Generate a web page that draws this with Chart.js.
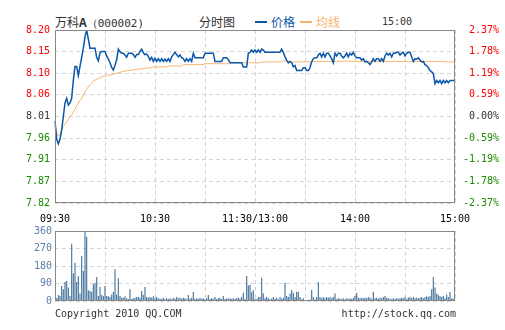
<!DOCTYPE html>
<html>
<head>
<meta charset="utf-8">
<script src="https://cdn.jsdelivr.net/npm/chart.js@4"></script>
<style>
  body { margin: 0; background: #fff; width: 505px; height: 330px; position: relative; overflow: hidden; }
  .txt { position: absolute; white-space: nowrap; color: #333; }
  .cn { font-family: "Noto Sans CJK SC", sans-serif; font-size: 12px; line-height: 16px; }
  .mono { font-family: "DejaVu Sans Mono", monospace; font-size: 10px; line-height: 12px; }
  .swatch { position: absolute; height: 2px; width: 12px; }
  canvas { position: absolute; left: 0; }
</style>
</head>
<body>
<div class="txt cn" style="left:55px; top:14px;">万科<b>A</b><span class="mono" style="font-size:11px;">（000002)</span></div>
<div class="txt cn" style="left:199px; top:14px;">分时图</div>
<div class="swatch" style="left:255px; top:21px; background:#0a56a8;"></div>
<div class="txt cn" style="left:271px; top:14px; color:#0a56a8;">价格</div>
<div class="swatch" style="left:300px; top:21px; background:#f6b26b;"></div>
<div class="txt cn" style="left:316px; top:14px; color:#f6b26b;">均线</div>
<div class="txt mono" style="left:382px; top:16px;">15:00</div>
<canvas id="priceChart" width="505" height="235" style="top:0;"></canvas>
<canvas id="volChart" width="505" height="88" style="top:222px;"></canvas>
<div class="txt mono" style="left:55px; top:308px;">Copyright 2010 QQ.COM</div>
<div class="txt mono" style="right:49px; top:308px;">http://stock.qq.com</div>
<script>
// price per minute, 09:30 .. 11:30 then 13:01 .. 15:00
const prices = [
  8.00, 7.96, 7.95, 7.96, 7.98, 8.01, 8.04, 8.05, 8.035, 8.04,
  8.05, 8.09, 8.12, 8.12, 8.10, 8.12, 8.14, 8.16, 8.185, 8.20,
  8.18, 8.16, 8.16, 8.16, 8.16, 8.14, 8.132, 8.15, 8.153, 8.153,
  8.153, 8.143, 8.136, 8.128, 8.118, 8.112, 8.122, 8.135, 8.158, 8.152,
  8.149, 8.149, 8.145, 8.140, 8.149, 8.149, 8.149, 8.146, 8.140, 8.146,
  8.146, 8.153, 8.158, 8.150, 8.146, 8.147, 8.142, 8.134, 8.140, 8.131,
  8.138, 8.131, 8.137, 8.131, 8.137, 8.131, 8.136, 8.131, 8.137, 8.131,
  8.141, 8.146, 8.151, 8.146, 8.141, 8.145, 8.139, 8.137, 8.131, 8.137,
  8.131, 8.137, 8.131, 8.149, 8.139, 8.139, 8.139, 8.139, 8.139, 8.139,
  8.149, 8.149, 8.149, 8.149, 8.149, 8.149, 8.131, 8.131, 8.131, 8.131,
  8.131, 8.139, 8.139, 8.139, 8.135, 8.128, 8.128, 8.128, 8.128, 8.128,
  8.128, 8.128, 8.128, 8.119, 8.119, 8.119, 8.149, 8.151, 8.156, 8.151,
  8.156, 8.151, 8.156, 8.151, 8.158, 8.156, 8.151, 8.151, 8.151, 8.151,
  8.151, 8.151, 8.151, 8.151, 8.151, 8.151, 8.158, 8.151, 8.141, 8.134,
  8.128, 8.131, 8.128, 8.119, 8.122, 8.111, 8.111, 8.111, 8.111, 8.117,
  8.117, 8.111, 8.111, 8.117, 8.130, 8.137, 8.139, 8.139, 8.145, 8.149,
  8.141, 8.149, 8.141, 8.149, 8.149, 8.143, 8.137, 8.128, 8.149, 8.143,
  8.149, 8.149, 8.143, 8.139, 8.143, 8.149, 8.141, 8.149, 8.145, 8.151,
  8.143, 8.139, 8.139, 8.139, 8.134, 8.137, 8.130, 8.131, 8.128, 8.124,
  8.130, 8.137, 8.131, 8.137, 8.137, 8.131, 8.137, 8.131, 8.143, 8.149,
  8.145, 8.149, 8.141, 8.149, 8.149, 8.151, 8.151, 8.145, 8.149, 8.151,
  8.143, 8.149, 8.151, 8.151, 8.141, 8.131, 8.137, 8.136, 8.139, 8.134,
  8.130, 8.131, 8.124, 8.122, 8.117, 8.111, 8.108, 8.104, 8.082, 8.089,
  8.084, 8.089, 8.082, 8.089, 8.084, 8.089, 8.084, 8.089, 8.089, 8.089,
  8.089
];

// average price line
const avgPrices = [
  7.993, 7.975, 7.967, 7.970, 7.982, 7.988, 7.993, 7.999, 8.004, 8.009,
  8.014, 8.020, 8.026, 8.033, 8.039, 8.045, 8.050, 8.057, 8.064, 8.070,
  8.075, 8.080, 8.084, 8.087, 8.090, 8.092, 8.093, 8.095, 8.097, 8.098,
  8.099, 8.100, 8.101, 8.101, 8.102, 8.103, 8.104, 8.105, 8.106, 8.107,
  8.108, 8.109, 8.110, 8.110, 8.111, 8.111, 8.112, 8.112, 8.113, 8.113,
  8.114, 8.114, 8.115, 8.115, 8.116, 8.116, 8.117, 8.117, 8.117, 8.119,
  8.119, 8.119, 8.119, 8.119, 8.119, 8.119, 8.119, 8.119, 8.121, 8.121,
  8.121, 8.121, 8.121, 8.121, 8.121, 8.121, 8.121, 8.124, 8.124, 8.124,
  8.124, 8.124, 8.124, 8.124, 8.124, 8.124, 8.124, 8.124, 8.124, 8.124,
  8.126, 8.126, 8.126, 8.126, 8.126, 8.126, 8.126, 8.126, 8.126, 8.126,
  8.126, 8.126, 8.126, 8.126, 8.126, 8.128, 8.128, 8.128, 8.128, 8.128,
  8.128, 8.128, 8.128, 8.128, 8.128, 8.128, 8.128, 8.128, 8.128, 8.128,
  8.128, 8.128, 8.128, 8.128, 8.130, 8.130, 8.130, 8.130, 8.130, 8.130,
  8.130, 8.130, 8.130, 8.130, 8.130, 8.130, 8.130, 8.132, 8.132, 8.132,
  8.130, 8.130, 8.130, 8.130, 8.130, 8.130, 8.130, 8.130, 8.130, 8.130,
  8.130, 8.130, 8.130, 8.130, 8.130, 8.131, 8.131, 8.131, 8.131, 8.131,
  8.131, 8.131, 8.131, 8.131, 8.131, 8.131, 8.131, 8.131, 8.131, 8.131,
  8.131, 8.131, 8.131, 8.132, 8.132, 8.132, 8.132, 8.131, 8.131, 8.131,
  8.131, 8.131, 8.131, 8.131, 8.131, 8.131, 8.131, 8.131, 8.131, 8.131,
  8.131, 8.131, 8.131, 8.131, 8.131, 8.131, 8.131, 8.131, 8.131, 8.131,
  8.131, 8.131, 8.131, 8.131, 8.131, 8.131, 8.131, 8.131, 8.131, 8.131,
  8.131, 8.131, 8.131, 8.131, 8.131, 8.131, 8.131, 8.131, 8.131, 8.131,
  8.131, 8.131, 8.131, 8.131, 8.131, 8.131, 8.131, 8.131, 8.131, 8.131,
  8.131, 8.131, 8.131, 8.130, 8.130, 8.130, 8.130, 8.130, 8.130, 8.130,
  8.130
];

// volume per minute
const volumes = [
  9, 14, 31, 26, 77, 60, 98, 103, 69, 26,
  295, 141, 197, 98, 129, 38, 231, 154, 360, 331,
  55, 51, 48, 86, 94, 123, 26, 72, 31, 26,
  77, 26, 24, 21, 34, 46, 163, 34, 117, 26,
  17, 17, 24, 14, 10, 60, 10, 14, 17, 21,
  21, 17, 51, 31, 72, 21, 17, 21, 17, 24,
  14, 21, 14, 12, 10, 17, 9, 14, 10, 14,
  9, 17, 12, 21, 14, 17, 12, 17, 14, 9,
  31, 12, 17, 46, 12, 14, 10, 17, 12, 14,
  9, 14, 31, 10, 14, 12, 21, 10, 14, 17,
  10, 26, 10, 14, 12, 14, 10, 14, 10, 14,
  17, 12, 21, 43, 10, 128, 80, 84, 46, 55,
  12, 9, 20, 20, 120, 38, 14, 21, 14, 9,
  12, 21, 12, 17, 9, 21, 12, 17, 94, 26,
  21, 38, 57, 43, 21, 48, 48, 21, 9, 14,
  5, 5, 7, 7, 57, 21, 9, 21, 98, 21,
  14, 21, 14, 21, 17, 21, 14, 21, 38, 9,
  14, 12, 9, 14, 9, 14, 10, 14, 10, 17,
  26, 43, 17, 14, 17, 14, 17, 14, 21, 17,
  12, 48, 14, 17, 12, 17, 14, 21, 26, 17,
  14, 12, 9, 14, 10, 14, 12, 14, 17, 14,
  21, 10, 17, 21, 14, 21, 14, 17, 14, 17,
  21, 14, 21, 24, 21, 26, 60, 123, 69, 38,
  31, 26, 21, 26, 14, 34, 21, 46, 14, 12,
  10
];

const priceMin = 7.82, priceMax = 8.20;
const priceTicks = ['7.82', '7.87', '7.91', '7.96', '8.01', '8.06', '8.10', '8.15', '8.20'];
const pctTicks = ['-2.37%', '-1.78%', '-1.19%', '-0.59%', '0.00%', '0.59%', '1.19%', '1.78%', '2.37%'];
const volTicks = ['0', '90', '180', '270', '360'];
const timeTicks = { 0: '09:30', 60: '10:30', 120: '11:30/13:00', 180: '14:00', 240: '15:00' };

// minute labels for the category axis
const minutes = prices.map((p, i) => String(i));

const monoFont = { family: 'DejaVu Sans Mono', size: 10 };
const gridColor = '#d4d4d4';
const upColor = '#ff0000', downColor = '#1a8a00', flatColor = '#333333';

function tickColor(ctx) {
  if (ctx.index > 4) return upColor;
  if (ctx.index < 4) return downColor;
  return flatColor;
}

function evenTicks(lo, hi, n) {
  return scale => {
    scale.ticks = [];
    for (let i = 0; i < n; i++) scale.ticks.push({ value: lo + i * (hi - lo) / (n - 1) });
  };
}

// grey frame round the plot area
const framePlugin = {
  id: 'frame',
  afterDraw(chart) {
    const a = chart.chartArea;
    const ctx = chart.ctx;
    ctx.save();
    ctx.strokeStyle = '#888';
    ctx.lineWidth = 1;
    ctx.strokeRect(a.left + 0.5, a.top + 0.5, a.right - a.left - 1, a.bottom - a.top - 1);
    ctx.restore();
  }
};

const xGrid = {
  color: ctx => (ctx.index % 30 === 0 ? gridColor : 'rgba(0,0,0,0)'),
  drawTicks: false
};

new Chart(document.getElementById('priceChart'), {
  type: 'line',
  data: {
    labels: minutes,
    datasets: [
      { data: prices, borderColor: '#0a56a8', borderWidth: 1.5, pointRadius: 0, tension: 0, yAxisID: 'y' },
      { data: avgPrices, borderColor: '#f6b26b', borderWidth: 1, pointRadius: 0, tension: 0, yAxisID: 'y' }
    ]
  },
  options: {
    responsive: false,
    animation: false,
    layout: { padding: { top: 30, right: 6, left: 0, bottom: 0 } },
    plugins: { legend: { display: false }, tooltip: { enabled: false } },
    scales: {
      x: {
        grid: xGrid,
        border: { display: false, dash: [4, 3] },
        ticks: {
          autoSkip: false, maxRotation: 0, padding: 10, color: '#000', font: monoFont,
          callback: (v, i) => timeTicks[i] || ''
        }
      },
      y: {
        position: 'left',
        min: priceMin, max: priceMax,
        afterBuildTicks: evenTicks(priceMin, priceMax, priceTicks.length),
        afterFit: s => { s.width = 55; },
        grid: { color: gridColor, drawTicks: false },
        border: { display: false, dash: [4, 3] },
        ticks: { padding: 5, font: monoFont, color: tickColor, callback: (v, i) => priceTicks[i] }
      },
      pct: {
        position: 'right',
        min: -2.37, max: 2.37,
        afterBuildTicks: evenTicks(-2.37, 2.37, pctTicks.length),
        afterFit: s => { s.width = 44; },
        grid: { display: false, drawTicks: false },
        border: { display: false },
        ticks: { crossAlign: 'far', font: monoFont, color: tickColor, callback: (v, i) => pctTicks[i] }
      }
    }
  },
  plugins: [framePlugin]
});

new Chart(document.getElementById('volChart'), {
  type: 'bar',
  data: {
    labels: minutes,
    datasets: [
      { data: volumes, backgroundColor: '#4a77a0', barPercentage: 0.7, categoryPercentage: 1 }
    ]
  },
  options: {
    responsive: false,
    animation: false,
    layout: { padding: { top: 8, right: 50, left: 0, bottom: 2 } },
    plugins: { legend: { display: false }, tooltip: { enabled: false } },
    scales: {
      x: {
        offset: false,
        grid: Object.assign({ offset: false }, xGrid),
        border: { display: false, dash: [4, 3] },
        ticks: { display: false }
      },
      y: {
        min: 0, max: 360,
        afterBuildTicks: evenTicks(0, 360, volTicks.length),
        afterFit: s => { s.width = 55; },
        grid: { color: gridColor, drawTicks: false },
        border: { display: false, dash: [4, 3] },
        ticks: { padding: 3, font: monoFont, color: '#5a7ea6', callback: (v, i) => volTicks[i] }
      }
    }
  },
  plugins: [framePlugin]
});
</script>
</body>
</html>
